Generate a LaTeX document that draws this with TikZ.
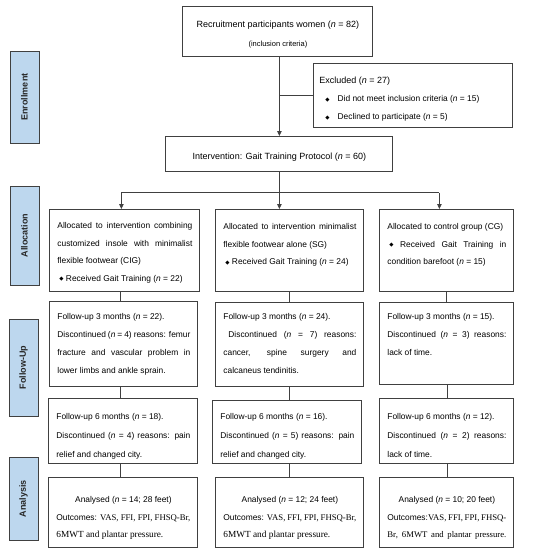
\documentclass[tikz,border=0pt]{standalone}
\usepackage{fontspec}
\setmainfont{Liberation Sans}
\newfontfamily\tms{Liberation Serif}
\newfontfamily\djv{DejaVu Sans}
\usetikzlibrary{arrows.meta,calc}
\definecolor{labfill}{HTML}{BDD7EE}
\definecolor{edge}{HTML}{404040}
\tikzset{
 box/.style={draw=edge, line width=0.8pt, inner sep=0pt, anchor=north west, fill=white},
 lab/.style={draw=edge, line width=0.8pt, fill=labfill, inner sep=0pt, rotate=90, font=\fontsize{9}{9}\selectfont\bfseries, text=black!85},
 link/.style={draw=edge, line width=0.8pt},
 arr/.style={link, -{Triangle[length=5pt,width=4.5pt]}},
}
\newcommand\cbox[5]{\parbox[c][#2][t]{#1}{\vspace*{\dimexpr#3-7pt\relax}\hspace*{8pt}\parbox[t]{\dimexpr#1-15pt\relax}{\fontsize{8.4}{#4}\selectfont\rule{0pt}{7pt}#5}}}
\newcommand\jl[1]{\makebox[\linewidth][s]{#1}}
\newcommand\cl[1]{\makebox[\linewidth][c]{#1}}
\newcommand\dia{\raisebox{0.6pt}{\djv\fontsize{5.5}{6}\selectfont ◆}}
\newcommand\nn{\textit{n}}
\begin{document}
\begin{tikzpicture}[x=1pt,y=-1pt]
\useasboundingbox (0,0) rectangle (535,550);
% phase labels
\node[lab, minimum width=92pt, minimum height=29pt] (lenr) at (24.5,97) {Enrollment};
\node[lab, minimum width=99pt, minimum height=29pt] (lall) at (24.5,235.5) {Allocation};
\node[lab, minimum width=97pt, minimum height=29pt] (lfu) at (23.5,367.5) {Follow-Up};
\node[lab, minimum width=83pt, minimum height=29pt] (lana) at (23.5,498.5) {Analysis};
% enrollment
\node[box] (top) at (182,6) {\cbox{190pt}{50pt}{21.5pt}{18.5pt}{\cl{\fontsize{9}{9}\selectfont Recruitment participants women (\nn{} = 82)}\\\cl{\fontsize{7.5}{8}\selectfont (inclusion criteria)}}};
\node[box] (excl) at (313,63) {\cbox{199pt}{64pt}{20.5pt}{18pt}{\hspace*{-2pt}{\fontsize{9}{9}\selectfont Excluded (\nn{} = 27)}\\\hspace*{4pt}\dia\hspace{8pt}Did not meet inclusion criteria (\nn{} = 15)\\\hspace*{4pt}\dia\hspace{8pt}Declined to participate (\nn{} = 5)}};
\node[box] (int) at (165,136) {\cbox{227pt}{35pt}{23pt}{10pt}{\cl{\fontsize{9}{10}\selectfont Intervention: Gait Training Protocol (\nn{} = 60)}}};
% allocation
\node[box] (a1) at (49,209) {\cbox{150pt}{82pt}{19.5pt}{17.5pt}{\jl{Allocated to intervention combining}\\\jl{customized insole with minimalist}\\flexible footwear (CIG)\\\hspace*{2pt}\dia\ Received Gait Training (\nn{} = 22)}};
\node[box] (a2) at (215,209) {\cbox{148pt}{82pt}{20.5pt}{17.5pt}{\jl{Allocated to intervention minimalist}\\flexible footwear alone (SG)\\\hspace*{2pt}\dia\ Received Gait Training (\nn{} = 24)}};
\node[box] (a3) at (379,209) {\cbox{134pt}{82pt}{20.5pt}{17.5pt}{Allocated to control group (CG)\\\jl{\hspace*{2pt}\dia\ Received Gait Training in}\\condition barefoot (\nn{} = 15)}};
% follow-up 3 months
\node[box] (f1) at (49,301) {\cbox{148pt}{85pt}{18.5pt}{18pt}{Follow-up 3 months (\nn{} = 22).\\\jl{Discontinued (\nn{} = 4) reasons: femur}\\\jl{fracture and vascular problem in}\\lower limbs and ankle sprain.}};
\node[box] (f2) at (215,302) {\cbox{148pt}{84pt}{17.5pt}{18pt}{Follow-up 3 months (\nn{} = 24).\\\hspace*{5pt}\makebox[\dimexpr\linewidth-5pt][s]{Discontinued (\nn{} = 7) reasons:}\\\jl{cancer, spine surgery and}\\calcaneus tendinitis.}};
\node[box] (f3) at (379,302) {\cbox{134pt}{82pt}{17.5pt}{18pt}{Follow-up 3 months (\nn{} = 15).\\\jl{Discontinued (\nn{} = 3) reasons:}\\lack of time.}};
% follow-up 6 months
\node[box] (s1) at (48,398) {\cbox{149pt}{65pt}{21pt}{19pt}{Follow-up 6 months (\nn{} = 18).\\\jl{Discontinued (\nn{} = 4) reasons: pain}\\relief and changed city.}};
\node[box] (s2) at (212,400) {\cbox{149pt}{63pt}{19pt}{19pt}{Follow-up 6 months (\nn{} = 16).\\\jl{Discontinued (\nn{} = 5) reasons: pain}\\relief and changed city.}};
\node[box] (s3) at (379,398) {\cbox{134pt}{65pt}{21pt}{19pt}{Follow-up 6 months (\nn{} = 12).\\\jl{Discontinued (\nn{} = 2) reasons:}\\lack of time.}};
% analysis
\node[box] (n1) at (48,477) {\cbox{149pt}{70pt}{25.5pt}{17.5pt}{\cl{Analysed (\nn{} = 14; 28 feet)}\\\jl{Outcomes: {\tms\fontsize{8.7}{9}\selectfont VAS, FFI, FPI, FHSQ-Br,}}\\{\tms\fontsize{9.3}{9}\selectfont 6MWT and plantar pressure.}}};
\node[box] (n2) at (215,477) {\cbox{148pt}{70pt}{25.5pt}{17.5pt}{\cl{Analysed (\nn{} = 12; 24 feet)}\\\jl{Outcomes: {\tms\fontsize{8.7}{9}\selectfont VAS, FFI, FPI, FHSQ-Br,}}\\{\tms\fontsize{9.3}{9}\selectfont 6MWT and plantar pressure.}}};
\node[box] (n3) at (379,477) {\cbox{134pt}{70pt}{25.5pt}{17.5pt}{\cl{Analysed (\nn{} = 10; 20 feet)}\\\jl{Outcomes:{\tms\fontsize{8.7}{9}\selectfont VAS, FFI, FPI, FHSQ-}}\\\jl{\tms\fontsize{8.7}{9}\selectfont Br, 6MWT and plantar pressure.}}};
% connector points
\coordinate (sp) at ($(int.south)+(0.5,21)$);
\coordinate (t1) at ($(a1.north)+(-3,0)$);
\coordinate (t3) at ($(a3.north)+(-7,0)$);
\coordinate (b1) at ($(a1.south)+(-4,0)$);
\coordinate (c1) at ($(f1.south)+(-3,0)$);
\coordinate (c3) at ($(f3.south)+(1,0)$);
\coordinate (d1) at ($(s1.south)+(-2.5,0)$);
\coordinate (d2) at ($(s2.south)+(2.5,0)$);
\coordinate (d3) at ($(s3.south)+(1,0)$);
\coordinate (ex) at (excl.west -| sp);
% connectors
\draw[arr] (sp |- top.south) -- (sp |- int.north);
\draw[link] (ex) -- (excl.west);
\draw[link] (sp |- int.south) -- (sp);
\draw[link] (t1 |- sp) -- (t3 |- sp);
\draw[arr] (t1 |- sp) -- (t1);
\draw[arr] (sp) -- (sp |- a2.north);
\draw[arr] (t3 |- sp) -- (t3);
\draw[link] (b1) -- (b1 |- f1.north);
\draw[link] (a2.south) -- (a2.south |- f2.north);
\draw[link] (a3.south) -- (a3.south |- f3.north);
\draw[link] (c1) -- (c1 |- s1.north);
\draw[link] (f2.south) -- (f2.south |- s2.north);
\draw[link] (c3) -- (c3 |- s3.north);
\draw[link] (d1) -- (d1 |- n1.north);
\draw[link] (d2) -- (d2 |- n2.north);
\draw[link] (d3) -- (d3 |- n3.north);
\end{tikzpicture}
\end{document}
